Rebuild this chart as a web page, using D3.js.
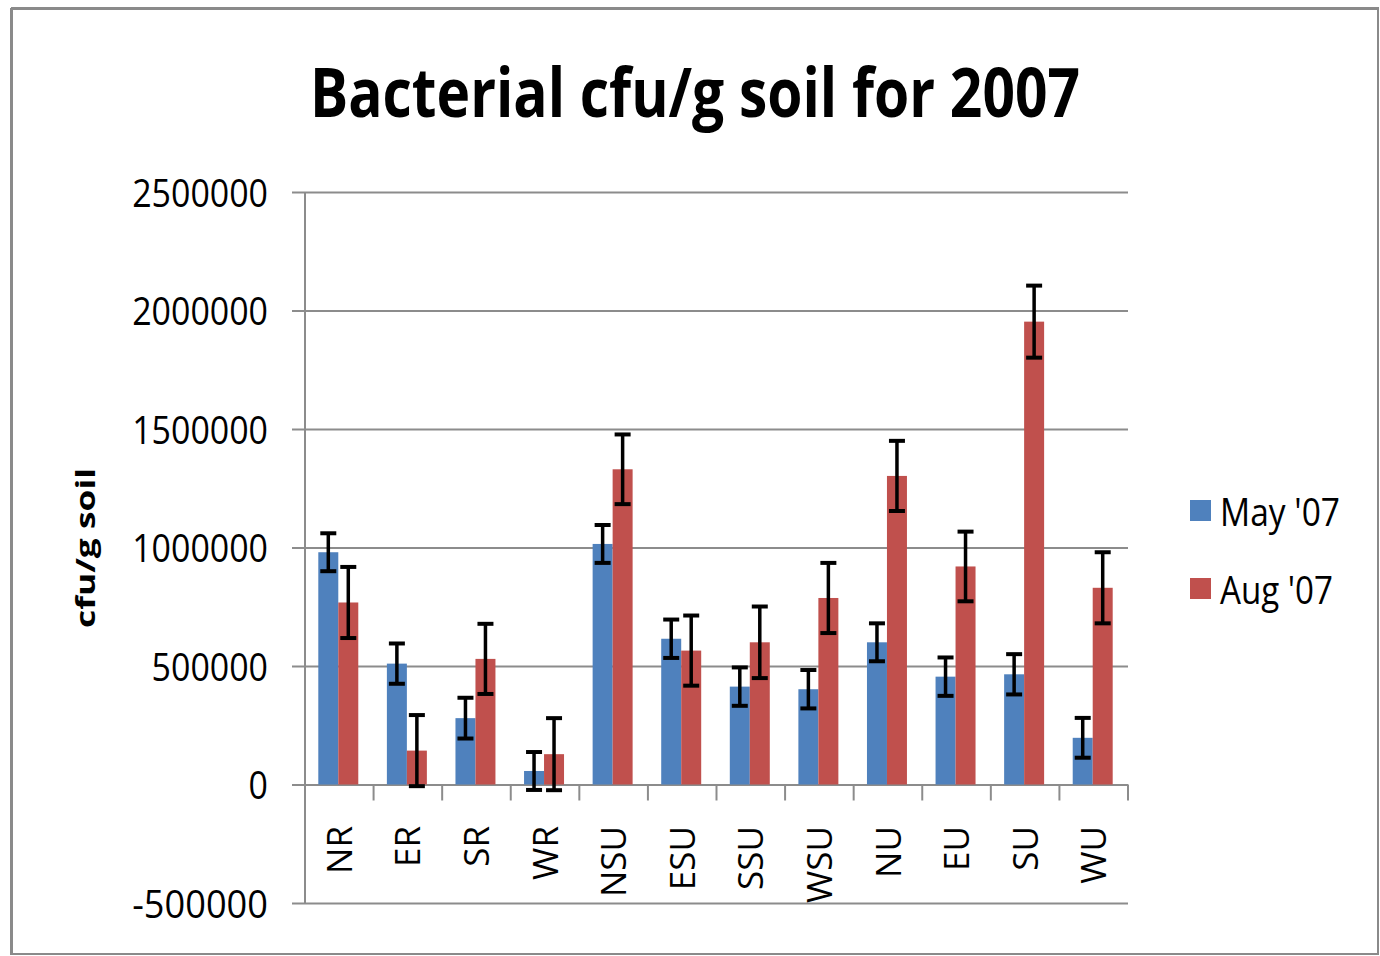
<!DOCTYPE html>
<html>
<head>
<meta charset="utf-8">
<script src="https://cdn.jsdelivr.net/npm/d3@7"></script>
<style>
  html, body { margin: 0; padding: 0; background: #fff; }
  svg { display: block; }
  text { font-family: "Open Sans", "DejaVu Sans", sans-serif; fill: #000; }
</style>
</head>
<body>
<svg id="chart" width="1380" height="956"></svg>
<script>
// ---- Data ----
const categories = ["NR", "ER", "SR", "WR", "NSU", "ESU", "SSU", "WSU", "NU", "EU", "SU", "WU"];
const seriesNames = ["May '07", "Aug '07"];
const mayValues = [980000, 510000, 280000, 57000, 1015000, 615000, 413000, 402000, 600000, 455000, 465000, 197000];
const mayErrors = [80000, 85000, 86000, 80000, 80000, 81000, 81000, 81000, 80000, 81000, 85000, 84000];
const augValues = [768000, 143000, 530000, 128000, 1330000, 565000, 600000, 787000, 1302000, 920000, 1953000, 830000];
const augErrors = [150000, 150000, 148000, 152000, 147000, 148000, 151000, 148000, 148000, 147000, 152000, 150000];
const yTicks = [-500000, 0, 500000, 1000000, 1500000, 2000000, 2500000];
const titleText = "Bacterial cfu/g soil for 2007";
const yAxisTitle = "cfu/g soil";
const colors = ["#4F81BD", "#C0504D"];

// ---- Layout ----
const svg = d3.select("#chart");
const plot = { left: 305, right: 1128, top: 192, bottom: 903 };

// Border
svg.append("rect")
  .attr("x", 12).attr("y", 8).attr("width", 1366).attr("height", 946)
  .attr("fill", "#fff").attr("stroke", "#8a8a8a").attr("stroke-width", 2);
svg.append("line").attr("x1", 11).attr("x2", 1379).attr("y1", 8.5).attr("y2", 8.5)
  .attr("stroke", "#8a8a8a").attr("stroke-width", 3);
svg.append("line").attr("x1", 11.5).attr("x2", 11.5).attr("y1", 8).attr("y2", 955)
  .attr("stroke", "#8a8a8a").attr("stroke-width", 3);

const x0 = d3.scaleBand().domain(categories).range([plot.left, plot.right]).padding(0);
const groupW = x0.bandwidth() * 0.583;
const x1 = d3.scaleBand().domain(seriesNames)
  .range([(x0.bandwidth() - groupW) / 2 - 1, (x0.bandwidth() + groupW) / 2 - 1]).padding(0);
const y = d3.scaleLinear().domain([-500000, 2500000]).range([plot.bottom, plot.top]);

// Y axis ticks + gridlines
const gAxis = svg.append("g").attr("transform", `translate(${plot.left - 13},0)`)
  .call(d3.axisLeft(y).tickValues(yTicks).tickSize(0).tickPadding(24).tickFormat(d => String(d)));
gAxis.select(".domain").remove();
gAxis.selectAll(".tick line").remove();
gAxis.selectAll(".tick").append("line")
  .attr("x1", 0).attr("x2", plot.right - plot.left + 13)
  .attr("stroke", "#8c8c8c").attr("stroke-width", 2);
gAxis.selectAll(".tick text")
  .attr("font-size", 39)
  .attr("fill", "#000")
  .attr("dy", "0.36em")
  .attr("textLength", d => String(d).length * 19.4)
  .attr("lengthAdjust", "spacingAndGlyphs");

// vertical axis line
svg.append("line")
  .attr("x1", plot.left).attr("x2", plot.left)
  .attr("y1", y(2500000)).attr("y2", y(-500000))
  .attr("stroke", "#8c8c8c").attr("stroke-width", 2);

// category tick marks below zero line
const bounds = categories.map(c => x0(c)).concat([plot.right]);
svg.append("g").selectAll("line").data(bounds).join("line")
  .attr("x1", d => d).attr("x2", d => d)
  .attr("y1", y(0)).attr("y2", y(0) + 16)
  .attr("stroke", "#8c8c8c").attr("stroke-width", 2);

// Bars
const data = categories.map((c, i) => ({
  cat: c,
  vals: [
    { s: seriesNames[0], v: mayValues[i], e: mayErrors[i], color: colors[0] },
    { s: seriesNames[1], v: augValues[i], e: augErrors[i], color: colors[1] }
  ]
}));

const groups = svg.append("g").selectAll("g").data(data).join("g")
  .attr("transform", d => `translate(${x0(d.cat)},0)`);

groups.selectAll("rect").data(d => d.vals).join("rect")
  .attr("x", d => x1(d.s))
  .attr("width", x1.bandwidth())
  .attr("y", d => y(Math.max(0, d.v)))
  .attr("height", d => Math.abs(y(d.v) - y(0)))
  .attr("fill", d => d.color);

// Error bars
const capW = 16;
const eb = groups.selectAll("g.err").data(d => d.vals).join("g").attr("class", "err");
eb.append("line")
  .attr("x1", d => x1(d.s) + x1.bandwidth() / 2)
  .attr("x2", d => x1(d.s) + x1.bandwidth() / 2)
  .attr("y1", d => y(d.v + d.e)).attr("y2", d => y(d.v - d.e))
  .attr("stroke", "#000").attr("stroke-width", 3.5);
eb.append("line")
  .attr("x1", d => x1(d.s) + x1.bandwidth() / 2 - capW / 2)
  .attr("x2", d => x1(d.s) + x1.bandwidth() / 2 + capW / 2)
  .attr("y1", d => y(d.v + d.e)).attr("y2", d => y(d.v + d.e))
  .attr("stroke", "#000").attr("stroke-width", 4);
eb.append("line")
  .attr("x1", d => x1(d.s) + x1.bandwidth() / 2 - capW / 2)
  .attr("x2", d => x1(d.s) + x1.bandwidth() / 2 + capW / 2)
  .attr("y1", d => y(d.v - d.e)).attr("y2", d => y(d.v - d.e))
  .attr("stroke", "#000").attr("stroke-width", 4);

// Category labels (rotated)
svg.append("g").selectAll("text").data(categories).join("text")
  .attr("transform", d => `translate(${x0(d) + x0.bandwidth() / 2},826) rotate(-90)`)
  .attr("text-anchor", "end")
  .attr("dy", "0.36em")
  .attr("font-size", 35)
  .text(d => d);

// Title
svg.append("text")
  .attr("x", 695).attr("y", 117)
  .attr("text-anchor", "middle")
  .attr("font-size", 68)
  .attr("font-weight", "bold")
  .attr("textLength", 770)
  .attr("lengthAdjust", "spacingAndGlyphs")
  .text(titleText);

// Y axis title
svg.append("text")
  .attr("transform", "translate(95,548) rotate(-90)")
  .attr("text-anchor", "middle")
  .attr("font-size", 27)
  .attr("font-weight", "bold")
  .attr("textLength", 160)
  .attr("lengthAdjust", "spacingAndGlyphs")
  .text(yAxisTitle);

// Legend
const legend = svg.append("g").selectAll("g").data(seriesNames).join("g")
  .attr("transform", (d, i) => `translate(1190,${500 + i * 78})`);
legend.append("rect").attr("width", 21).attr("height", 21)
  .attr("fill", (d, i) => colors[i]);
legend.append("text")
  .attr("x", 30).attr("y", 26)
  .attr("font-size", 39)
  .attr("textLength", (d, i) => i === 0 ? 120 : 113)
  .attr("lengthAdjust", "spacingAndGlyphs")
  .text(d => d);
</script>
</body>
</html>
